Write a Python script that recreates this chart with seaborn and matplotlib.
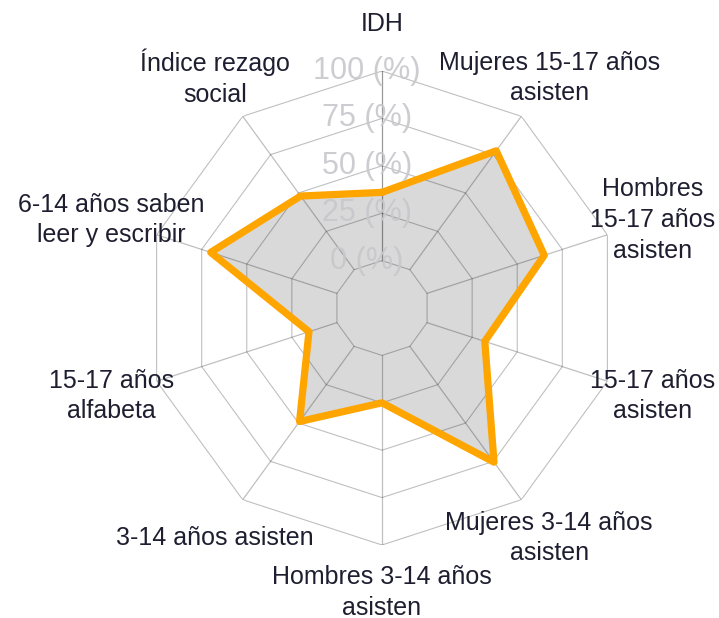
import numpy as np
import pandas as pd
import matplotlib
matplotlib.use("Agg")
import matplotlib.pyplot as plt
import matplotlib.transforms as mtransforms
import seaborn as sns

categories = ["IDH", "Mujeres 15-17 años\nasisten", "Hombres\n15-17 años\nasisten",
              "15-17 años\nasisten", "Mujeres 3-14 años\nasisten", "Hombres 3-14 años\nasisten",
              "3-14 años asisten", "15-17 años\nalfabeta", "6-14 años saben\nleer y escribir",
              "Índice rezago\nsocial"]
values = [36, 77.5, 65, 32, 75.5, 25, 49, 15.5, 70, 48]
ring_values = [0, 25, 50, 75, 100]
ring_labels = ["0 (%)", "25 (%)", "50 (%)", "75 (%)", "100 (%)"]

sns.set_theme(style="white")
plt.rcParams['font.family'] = ['Liberation Sans', 'DejaVu Sans']

n = len(categories)
angles = np.arange(n) * 2 * np.pi / n
closed_angles = np.append(angles, angles[0])

df = pd.DataFrame({"theta": closed_angles, "value": values + [values[0]]})

fig = plt.figure(figsize=(7.19, 6.18), dpi=100)
ax = fig.add_axes([0.2017, 0.1181, 0.6592, 0.767], projection="polar")
ax.set_theta_zero_location("N")
ax.set_theta_direction(-1)
ax.set_ylim(-25, 100)
ax.grid(False)
ax.spines["polar"].set_visible(False)
ax.set_xticks([])
ax.set_yticks([])
ax.set_facecolor("none")

# fill
ax.fill(df["theta"], df["value"], color="#d9d9d9", zorder=1, linewidth=0)

# decagon grid
for rv in ring_values:
    ax.plot(closed_angles, [rv] * (n + 1), color="black", alpha=0.25, lw=0.8, zorder=3)
for i, a in enumerate(angles):
    ax.plot([a, a], [0, 100], color="black", alpha=0.4 if i == 0 else 0.25, lw=0.9, zorder=3)

# data line
sns.lineplot(data=df, x="theta", y="value", sort=False, ax=ax, color="#FFA500",
             linewidth=5.2, zorder=4, solid_joinstyle="round", solid_capstyle="round",
             estimator=None)
ax.set_xlabel("")
ax.set_ylabel("")

# radial labels
off = mtransforms.offset_copy(ax.transData, fig=fig, x=-15, y=0, units="dots")
for rv, lab in zip(ring_values, ring_labels):
    ax.text(0, rv, lab, transform=off, ha="center", va="center", fontsize=22,
            color="#c8c8cc", alpha=0.9, zorder=5)

# category labels
for a, lab in zip(angles, categories):
    ax.text(a, 125, lab, ha="center", va="center", fontsize=18, color="#1e1e30",
            linespacing=1.35, zorder=5)

ax.set_ylim(-25, 100)
fig.savefig("out.png", dpi=100, facecolor="white")
